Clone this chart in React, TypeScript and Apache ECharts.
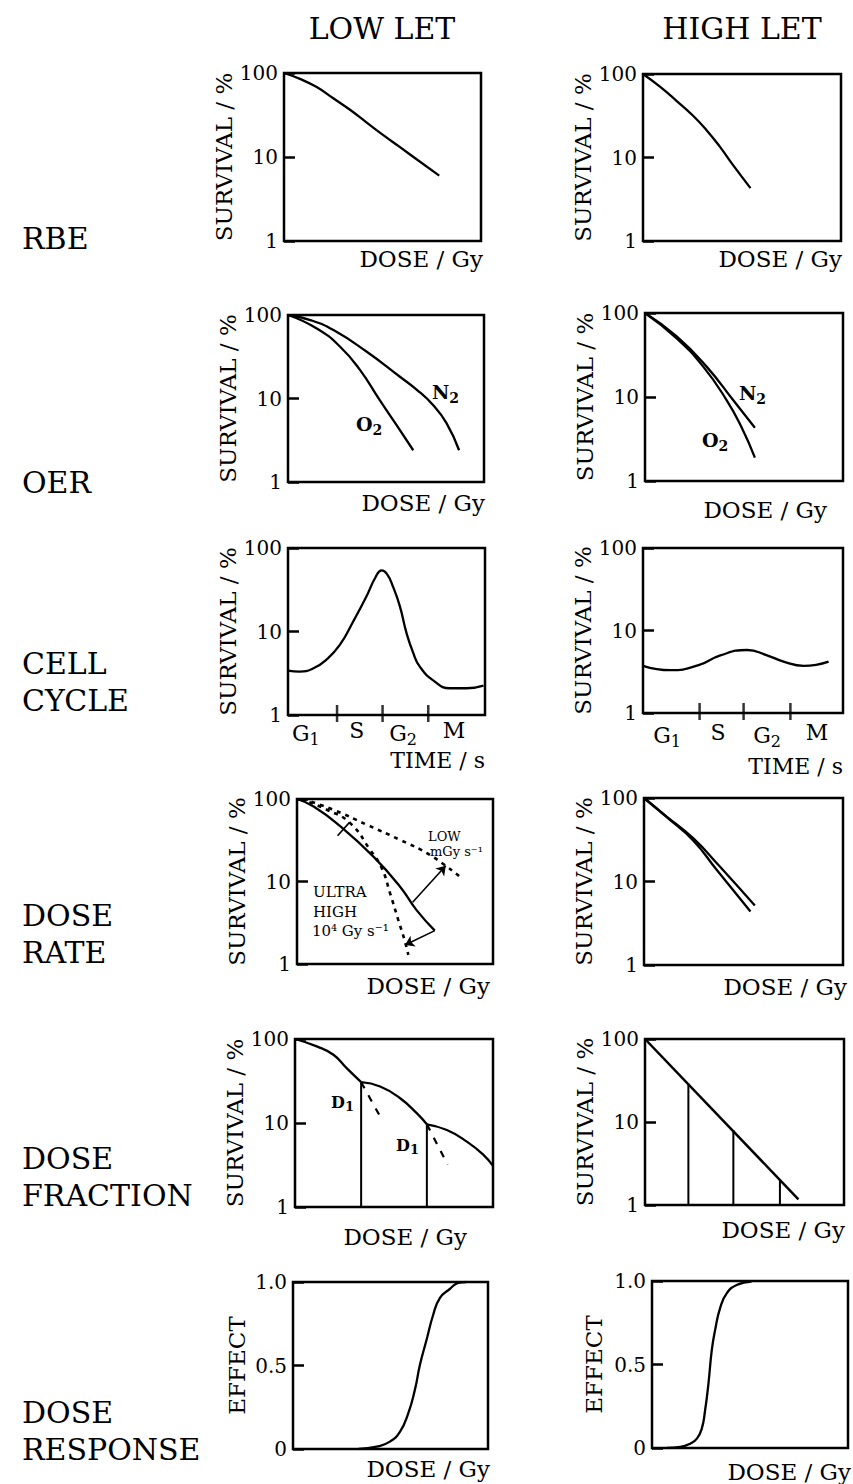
import React, { useEffect, useRef } from 'react';
import * as echarts from 'echarts';

const W = 853;
const H = 1484;
const FONT = 'DejaVu Serif';
const K = '#000';

// ---------- data (x: arbitrary dose/time units 0..10, y: survival % or effect) ----------
const rbeLow = [[0, 100], [0.81, 85], [1.66, 68], [2.5, 50], [3.35, 36.5], [4.2, 25.7], [5.04, 18.2], [5.89, 13.1], [6.73, 9.4], [7.88, 6.0]];
const rbeHigh = [[0, 100], [0.84, 71], [1.69, 47.8], [2.53, 31.6], [3.2, 21.4], [3.88, 13.5], [4.55, 8.1], [5.43, 4.3]];

const oerLowO2 = [[0, 100], [1.47, 69], [2.66, 41.7], [3.68, 21.9], [4.69, 9.5], [5.54, 4.8], [6.39, 2.4]];
const oerLowN2 = [[0, 100], [1.14, 87], [2.32, 66], [4.02, 36.3], [5.71, 18.2], [6.56, 12.8], [7.41, 8.3], [8.08, 5.1], [8.73, 2.4]];
const oerHighN2 = [[0, 100], [1.6, 52.6], [3.11, 23], [4.45, 9.2], [5.55, 4.3]];
const oerHighO2 = [[0, 100], [1.6, 50], [2.94, 23], [4.12, 9.2], [4.87, 4.4], [5.55, 1.9]];

const cycleLow = [[0, 3.4], [0.59, 3.3], [1.27, 3.6], [1.95, 4.6], [2.63, 6.9], [3.31, 13.2], [3.98, 26.3], [4.45, 45], [4.75, 54], [5.02, 49], [5.34, 34], [5.68, 20], [6.02, 9.5], [6.36, 5.5], [6.69, 3.8], [7.37, 2.6], [8.22, 2.09], [9.07, 2.09], [9.92, 2.25]];
const cycleHigh = [[0, 3.73], [1.37, 3.3], [2.78, 3.8], [3.87, 5.0], [5.2, 5.8], [6.2, 5.0], [7.03, 4.2], [8.03, 3.73], [9.28, 4.2]];
const cyclePhases = ['G1', 'S', 'G2', 'M'];
const cycleBoundsLow = [2.49, 4.8, 7.12];
const cycleBoundsHigh = [2.83, 5.03, 7.37];
const cycleLabelXLow = [0.91, 3.49, 5.84, 8.43];
const cycleLabelXHigh = [1.2, 3.75, 6.2, 8.7];

const rateLowSolid = [[0, 100], [0.85, 81], [2.2, 46.8], [3.9, 20], [5.25, 8.7], [6.1, 4.5], [7.03, 2.54]];
const rateLowDotted = [[0.3, 100], [1.86, 74], [3.56, 48.8], [5.25, 32], [6.78, 21], [8.39, 11]];
const rateUltraDotted = [[0.2, 100], [1.53, 74], [2.71, 51], [3.73, 24.2], [4.32, 14.6], [4.75, 7.2], [5.17, 3.4], [5.51, 1.87], [5.68, 1.29]];
const rateArrowToUltra = [[7.03, 2.54], [5.51, 1.7]];
const rateArrowToLow = [[5.9, 5.6], [7.59, 15.5]];
const rateMark = [[2.07, 35.9], [2.68, 52.1]];
const rateHighA = [[0, 100], [1.14, 60], [2.47, 33], [3.81, 15.1], [5.57, 5.15]];
const rateHighB = [[0, 100], [1.14, 59], [2.47, 31], [3.65, 13.8], [5.35, 4.37]];

const fracLowSeg1 = [[0, 100], [1.1, 81.7], [1.94, 65], [2.61, 45], [3.34, 30.6]];
const fracLowSeg2 = [[3.34, 30.6], [4.3, 27.2], [5.31, 19.7], [6.16, 13], [6.66, 9.64]];
const fracLowSeg3 = [[6.66, 9.64], [7.67, 8.25], [8.68, 6.0], [9.53, 4.15], [10, 3.09]];
const fracLowDash1 = [[3.34, 30.6], [4.44, 10.4]];
const fracLowDash2 = [[6.66, 9.64], [7.71, 3.2]];
const fracLowCuts = [[3.34, 30.6], [6.66, 9.64]];
const fracHighLine = [[0, 100], [7.71, 1.17]];
const fracHighCuts = [[2.18, 29], [4.44, 8], [6.78, 2.0]];

const respLow = [[3.36, 0], [4.29, 0.014], [4.97, 0.044], [5.49, 0.104], [5.91, 0.214], [6.25, 0.354], [6.51, 0.504], [6.85, 0.654], [7.19, 0.804], [7.53, 0.904], [8.04, 0.958], [8.47, 0.994], [8.89, 1.0]];
const respHigh = [[0.76, 0], [1.44, 0.006], [1.95, 0.026], [2.29, 0.056], [2.54, 0.116], [2.71, 0.226], [2.88, 0.386], [3.05, 0.586], [3.22, 0.706], [3.47, 0.836], [3.81, 0.926], [4.32, 0.976], [5.08, 0.996]];

const survTicks = [1, 10, 100];
const effectTicks = ['0', '0.5', '1.0'];

// ---------- layout ----------
const panels = [
  { l: 284, t: 73, w: 197, h: 168, kind: 'log', gap: 42 },
  { l: 643, t: 74, w: 198, h: 167, kind: 'log', gap: 43 },
  { l: 288, t: 315, w: 196, h: 167, kind: 'log', gap: 45 },
  { l: 645, t: 313, w: 198, h: 168, kind: 'log', gap: 47 },
  { l: 288, t: 548, w: 197, h: 167, kind: 'log', gap: 43 },
  { l: 643, t: 548, w: 200, h: 165, kind: 'log', gap: 47 },
  { l: 297, t: 799, w: 196, h: 165, kind: 'log', gap: 49 },
  { l: 644, t: 798, w: 199, h: 167, kind: 'log', gap: 46 },
  { l: 295, t: 1039, w: 198, h: 168, kind: 'log', gap: 49 },
  { l: 645, t: 1039, w: 199, h: 166, kind: 'log', gap: 49 },
  { l: 293, t: 1282, w: 195, h: 167, kind: 'lin', gap: 45 },
  { l: 652, t: 1281, w: 196, h: 167, kind: 'lin', gap: 47 },
];

const phaseRich = {
  g: { fontSize: 22, fontFamily: FONT, color: K },
  s: { fontSize: 16, fontFamily: FONT, color: K, padding: [12, 0, 0, 0] },
};

function phaseFormatter(xs: number[]) {
  return (v: number) => {
    let idx = 0;
    let best = Infinity;
    xs.forEach((x, i) => {
      const d = Math.abs(x - v);
      if (d < best) { best = d; idx = i; }
    });
    const p = cyclePhases[idx];
    return p.length > 1 ? `{g|${p[0]}}{s|${p.slice(1)}}` : `{g|${p}}`;
  };
}

function buildOption() {
  const grid = panels.map((p) => ({
    left: p.l, top: p.t, width: p.w, height: p.h,
    show: true, borderColor: K, borderWidth: 2.5, backgroundColor: 'transparent',
  }));

  const xAxis = panels.map((p, i) => {
    const base: any = {
      gridIndex: i, type: 'value', min: 0, max: 10,
      axisLine: { show: false }, axisTick: { show: false },
      axisLabel: { show: false }, splitLine: { show: false },
    };
    if (i === 4 || i === 5) {
      const xs = i === 4 ? cycleLabelXLow : cycleLabelXHigh;
      base.axisLabel = {
        show: true, customValues: xs, formatter: phaseFormatter(xs),
        rich: phaseRich, margin: i === 4 ? 4 : 8, color: K, fontFamily: FONT, fontSize: 22,
      };
    }
    return base;
  });

  const yAxis = panels.map((p, i) => {
    const common: any = {
      gridIndex: i,
      axisLine: { show: false },
      axisTick: { show: true, inside: true, length: 11, lineStyle: { color: K, width: 2.5 } },
      axisLabel: { color: K, fontFamily: FONT, fontSize: 20, margin: 6 },
      splitLine: { show: false },
      nameLocation: 'middle', nameRotate: 90, nameGap: p.gap,
      nameTextStyle: { fontFamily: FONT, fontSize: 23, color: K },
    };
    if (p.kind === 'log') {
      return {
        ...common, type: 'log', logBase: 10, min: survTicks[0], max: survTicks[2],
        name: 'SURVIVAL / %',
      };
    }
    return {
      ...common, type: 'value', min: 0, max: 1, interval: 0.5, name: 'EFFECT',
      axisLabel: { ...common.axisLabel, formatter: (v: number) => effectTicks[Math.round(v * 2)] },
    };
  });

  const line = (i: number, data: number[][], extra: any = {}) => ({
    type: 'line', xAxisIndex: i, yAxisIndex: i, data,
    symbol: 'none', showSymbol: false, smooth: 0.5, silent: true,
    lineStyle: { color: K, width: 2.3 }, z: 3, ...extra,
  });
  const straight = (i: number, data: number[][], width = 2.3, type: any = 'solid') =>
    line(i, data, { smooth: false, lineStyle: { color: K, width, type } });
  const dotted = { color: K, width: 2.6, type: [4, 5] };

  const series: any[] = [
    line(0, rbeLow),
    line(1, rbeHigh),
    line(2, oerLowO2),
    line(2, oerLowN2),
    line(3, oerHighN2),
    line(3, oerHighO2),
    line(4, cycleLow),
    line(5, cycleHigh),
    {
      type: 'scatter', xAxisIndex: 4, yAxisIndex: 4, silent: true, clip: false,
      data: cycleBoundsLow.map((x) => [x, survTicks[0]]),
      symbol: 'rect', symbolSize: [2.5, 17], symbolOffset: [0, -1.5], itemStyle: { color: K },
    },
    {
      type: 'scatter', xAxisIndex: 5, yAxisIndex: 5, silent: true, clip: false,
      data: cycleBoundsHigh.map((x) => [x, survTicks[0]]),
      symbol: 'rect', symbolSize: [2.5, 17], symbolOffset: [0, -1.5], itemStyle: { color: K },
    },
    line(6, rateLowSolid, {
      markLine: {
        silent: true, animation: false, symbol: ['none', 'arrow'], symbolSize: 9,
        label: { show: false },
        lineStyle: { color: K, width: 1.6, type: 'solid' },
        data: [
          [{ coord: rateArrowToUltra[0] }, { coord: rateArrowToUltra[1] }],
          [{ coord: rateArrowToLow[0] }, { coord: rateArrowToLow[1] }],
          [{ coord: rateMark[0], symbol: 'none' }, { coord: rateMark[1], symbol: 'none' }],
        ],
      },
    }),
    line(6, rateLowDotted, { lineStyle: dotted }),
    line(6, rateUltraDotted, { lineStyle: dotted }),
    line(7, rateHighA),
    line(7, rateHighB),
    line(8, fracLowSeg1),
    line(8, fracLowSeg2),
    line(8, fracLowSeg3),
    straight(8, fracLowDash1, 2.2, [7, 8]),
    straight(8, fracLowDash2, 2.2, [7, 8]),
    ...fracLowCuts.map((c) => straight(8, [[c[0], survTicks[0]], c], 2)),
    straight(9, fracHighLine, 2.5),
    ...fracHighCuts.map((c) => straight(9, [[c[0], survTicks[0]], c], 2)),
    line(10, respLow),
    line(11, respHigh),
  ];

  const txt = (text: string, x: number, y: number, size: number, align = 'left', extra: any = {}) => ({
    type: 'text', x, y, silent: true, z: 10,
    style: {
      text, fill: K, fontFamily: FONT, fontSize: size,
      align, textAlign: align, verticalAlign: 'middle', textVerticalAlign: 'middle', ...extra,
    },
  });
  const sub = (main: string, s: string, x: number, y: number, size: number, subSize: number, pad: number) =>
    txt(`{m|${main}}{s|${s}}`, x, y, size, 'left', {
      rich: {
        m: { fontSize: size, fontWeight: 'bold', fontFamily: FONT, fill: K },
        s: { fontSize: subSize, fontWeight: 'bold', fontFamily: FONT, fill: K, padding: [pad, 0, 0, 0] },
      },
    });

  const graphic: any[] = [
    txt('LOW LET', 382, 28, 30, 'center'),
    txt('HIGH LET', 742, 28, 30, 'center'),
    txt('RBE', 22, 238, 30),
    txt('OER', 22, 482, 30),
    txt('CELL', 22, 663, 30),
    txt('CYCLE', 22, 700, 30),
    txt('DOSE', 22, 915, 30),
    txt('RATE', 22, 952, 30),
    txt('DOSE', 22, 1158, 30),
    txt('FRACTION', 22, 1195, 30),
    txt('DOSE', 22, 1412, 30),
    txt('RESPONSE', 22, 1449, 30),
    txt('DOSE / Gy', 483, 259, 23, 'right'),
    txt('DOSE / Gy', 842, 259, 23, 'right'),
    txt('DOSE / Gy', 485, 503, 23, 'right'),
    txt('DOSE / Gy', 827, 510, 23, 'right'),
    txt('TIME / s', 485, 760, 22, 'right'),
    txt('TIME / s', 843, 766, 22, 'right'),
    txt('DOSE / Gy', 490, 986, 23, 'right'),
    txt('DOSE / Gy', 847, 987, 23, 'right'),
    txt('DOSE / Gy', 467, 1237, 23, 'right'),
    txt('DOSE / Gy', 845, 1230, 23, 'right'),
    txt('DOSE / Gy', 490, 1469, 23, 'right'),
    txt('DOSE / Gy', 851, 1472, 23, 'right'),
    sub('O', '2', 356, 424, 19, 14, 11),
    sub('N', '2', 432, 392, 19, 14, 11),
    sub('N', '2', 739, 393, 19, 14, 11),
    sub('O', '2', 702, 440, 19, 14, 11),
    sub('D', '1', 331, 1102, 16, 13, 9),
    sub('D', '1', 396, 1145, 16, 13, 9),
    txt('LOW', 428, 836, 13),
    txt('mGy s⁻¹', 430, 851, 13),
    txt('ULTRA', 313, 892, 15),
    txt('HIGH', 313, 912, 15),
    txt('10⁴ Gy s⁻¹', 312, 931, 15),
  ];

  return {
    animation: false,
    backgroundColor: '#fff',
    textStyle: { fontFamily: FONT },
    grid, xAxis, yAxis, series, graphic,
  };
}

export default function App() {
  const ref = useRef<HTMLDivElement>(null);
  useEffect(() => {
    const chart = echarts.init(ref.current as HTMLDivElement, null, { renderer: 'svg', width: W, height: H });
    chart.setOption(buildOption() as any);
    return () => chart.dispose();
  }, []);
  return (
    <div
      ref={ref}
      style={{ position: 'absolute', left: 0, top: 0, width: W, height: H, background: '#fff' }}
    />
  );
}
